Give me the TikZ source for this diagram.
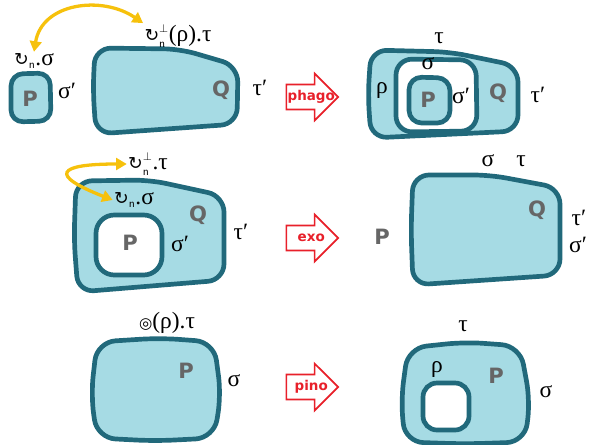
\documentclass[tikz,border=0pt]{standalone}
\usepackage{fontspec}
\usepackage{tikz}
\usetikzlibrary{positioning,shapes.arrows,arrows.meta}
\setmainfont{Liberation Serif}
\newfontfamily\symfont{DejaVu Sans}
\newfontfamily\boldsans{DejaVu Sans}
\definecolor{cellfill}{HTML}{A6DBE4}
\definecolor{cellline}{HTML}{21697B}
\definecolor{arrowred}{HTML}{E8202A}
\definecolor{swapyellow}{HTML}{F6C10C}
\definecolor{lettergrey}{HTML}{666666}
\newcommand{\turnsym}{{\symfont\fontsize{15}{15}\selectfont ↻}}
\newcommand{\ringsym}{{\symfont\fontsize{13}{13}\selectfont ◎}}
\newcommand{\pushtext}[1]{\makebox[0pt]{\hspace{9pt}#1}}

\begin{document}
\begin{tikzpicture}[x=0.03cm, y=-0.03cm,
cell/.style={fill=cellfill, draw=cellline, line width=4pt, rounded corners=0.48cm},
hole/.style={cell, fill=white},
letter/.style={font=\boldsans\bfseries\fontsize{18}{18}\selectfont, text=lettergrey, inner sep=1pt},
greek/.style={font=\fontsize{20}{22}\selectfont, inner sep=1pt},
swap/.style={draw=swapyellow, line width=2.8pt, {Triangle[length=9pt,width=10pt]}-{Triangle[length=9pt,width=10pt]}},
pusharrow/.style={single arrow, draw=arrowred, line width=1.4pt, fill=white, minimum height=1.55cm,
  single arrow head extend=0.33cm, inner xsep=0pt, inner ysep=0.14cm, text height=9pt, text depth=3pt,
  text=arrowred, font=\boldsans\bfseries\fontsize{11.5}{11.5}\selectfont}
]
\useasboundingbox (0,0) rectangle (591,444);

\draw[cell, rounded corners=0.36cm] (11,74) -- (50,73) -- (51,121) -- (11,122) -- cycle;
\draw[cell] (95,48) -- (180,49) -- (238,66) -- (237,124) -- (96,134) -- (93,90) -- cycle;
\node[letter] (p1) at (30,99) {P};
\node[greek] (s1) at (34,61) {\turnsym$_{\scriptscriptstyle\mathsf{n}}$.σ};
\node[greek] (sp1) at (67,91) {σ′};
\node[letter] (q1) at (221,90) {Q};
\node[greek] (tp1) at (260,88) {τ′};
\node[greek] (t1) at (178,36) {\turnsym$^{\scriptscriptstyle\perp}_{\scriptscriptstyle\mathsf{n}}$(ρ).τ};
\draw[swap] (s1.north) .. controls +(8,-49) and +(-41,-28) .. (t1.north west);
\node[pusharrow] (phago) at (306,97) {\pushtext{phago}};
\draw[cell] (371,50) -- (450,52) -- (518,66) -- (518,131) -- (371,138) -- (368,95) -- cycle;
\draw[hole] (396,59) -- (476,60) -- (477,131) -- (396,132) -- cycle;
\draw[cell, rounded corners=0.38cm] (409,77) -- (450,78) -- (450,123) -- (409,123) -- cycle;
\node[greek] (t1r) at (439,38) {τ};
\node[greek] (s1r) at (428,64) {σ};
\node[greek] (r1r) at (382,90) {ρ};
\node[letter] (p1r) at (428,100) {P};
\node[greek] (sp1r) at (461,96) {σ′};
\node[letter] (q1r) at (498,93) {Q};
\node[greek] (tp1r) at (538,95) {τ′};

\draw[cell] (76,181) -- (150,180) -- (224,196) -- (224,280) -- (78,292) -- (74,240) -- cycle;
\draw[hole, rounded corners=0.55cm] (96,215) -- (162,215) -- (162,275) -- (96,275) -- cycle;
\node[greek] (t2) at (148,164) {\turnsym$^{\scriptscriptstyle\perp}_{\scriptscriptstyle\mathsf{n}}$.τ};
\node[greek] (s2) at (134,200) {\turnsym$_{\scriptscriptstyle\mathsf{n}}$.σ};
\draw[swap] (t2.west) .. controls +(-70,0) and +(-64,-25) .. (s2.west);
\node[letter] (q2) at (198,215) {Q};
\node[letter] (p2) at (130,243) {P};
\node[greek] (sp2) at (180,244) {σ′};
\node[greek] (tp2) at (241,232) {τ′};
\node[pusharrow] (exo) at (306,238) {\pushtext{exo}};
\node[letter] (p2r) at (382,237) {P};
\draw[cell] (413,175) -- (490,175) -- (560,188) -- (560,275) -- (413,285) -- (411,230) -- cycle;
\node[greek] (s2r) at (488,161) {σ};
\node[greek] (t2r) at (521,161) {τ};
\node[letter] (q2r) at (537,210) {Q};
\node[greek] (tp2r) at (579,218) {τ′};
\node[greek] (sp2r) at (578,245) {σ′};

\draw[cell, rounded corners=0.55cm] (97,342) -- (160,338) -- (214,342) -- (221,395) -- (214,438) -- (155,441) -- (97,438) -- (91,395) -- cycle;
\node[greek] (t3) at (167,323) {\ringsym(ρ).τ};
\node[letter] (p3) at (186,371) {P};
\node[greek] (s3) at (234,381) {σ};
\node[pusharrow] (pino) at (306,387) {\pushtext{pino}};
\draw[cell, rounded corners=0.55cm] (408,348) -- (465,342) -- (520,346) -- (530,400) -- (525,442) -- (465,444) -- (405,442) -- (401,400) -- cycle;
\draw[hole, rounded corners=0.42cm] (423,383) -- (469,383) -- (469,430) -- (423,430) -- cycle;
\node[greek] (t3r) at (463,326) {τ};
\node[greek] (r3r) at (437,369) {ρ};
\node[letter] (p3r) at (496,376) {P};
\node[greek] (s3r) at (546,392) {σ};
\end{tikzpicture}
\end{document}
